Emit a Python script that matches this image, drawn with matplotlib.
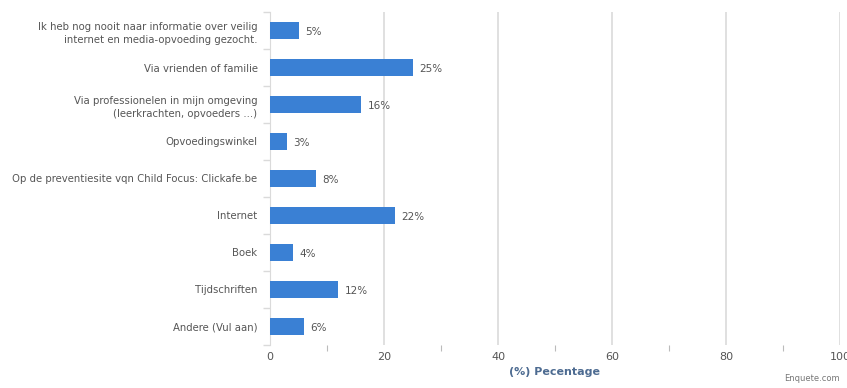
import numpy as np
import matplotlib.pyplot as plt
from matplotlib.ticker import MultipleLocator

# answers (top to bottom) and share of respondents in %
categories = [
    "Ik heb nog nooit naar informatie over veilig\ninternet en media-opvoeding gezocht.",
    "Via vrienden of familie",
    "Via professionelen in mijn omgeving\n(leerkrachten, opvoeders ...)",
    "Opvoedingswinkel",
    "Op de preventiesite vqn Child Focus: Clickafe.be",
    "Internet",
    "Boek",
    "Tijdschriften",
    "Andere (Vul aan)",
]
percentages = [5, 25, 16, 3, 8, 22, 4, 12, 6]
x_ticks = [0, 20, 40, 60, 80, 100]

BAR = "#3a80d4"
TEXT = "#555555"
GRID = "#dadada"

fig = plt.figure(figsize=(8.47, 3.88), dpi=100)
ax = fig.add_axes([0.3188, 0.111, 0.6729, 0.858])

y = np.arange(len(categories))
ax.barh(y, percentages, height=0.47, color=BAR, zorder=3)
for yi, v in zip(y, percentages):
    ax.text(v + 1.1, yi + 0.04, f"{v}%", va="center", ha="left", fontsize=7.5, color=TEXT)

ax.set_ylim(len(categories) - 0.5, -0.5)
ax.set_xlim(0, 100)

ax.set_yticks(y)
ax.set_yticklabels(categories, fontsize=7.3, color=TEXT, ha="right", linespacing=1.4)
ax.set_yticks(np.arange(len(categories) + 1) - 0.5, minor=True)
ax.tick_params(axis="y", which="major", length=0, pad=9)
ax.tick_params(axis="y", which="minor", length=5, color=GRID, width=1)

ax.set_xticks(x_ticks)
ax.set_xticklabels([str(t) for t in x_ticks], fontsize=8, color=TEXT)
ax.xaxis.set_minor_locator(MultipleLocator(10))
ax.tick_params(axis="x", which="major", length=0, pad=5)
ax.tick_params(axis="x", which="minor", length=4, color="#bbbbbb", width=0.8)
ax.grid(axis="x", which="major", color=GRID, linewidth=1.2, zorder=0)

for side in ["top", "right", "bottom"]:
    ax.spines[side].set_visible(False)
ax.spines["left"].set_color(GRID)

ax.set_xlabel("(%) Pecentage", fontsize=8, fontweight="bold", color="#4d6b91", labelpad=4)
fig.text(0.992, 0.012, "Enquete.com", fontsize=6, color="#777777", ha="right", va="bottom")

fig.savefig("out.png", dpi=100)
